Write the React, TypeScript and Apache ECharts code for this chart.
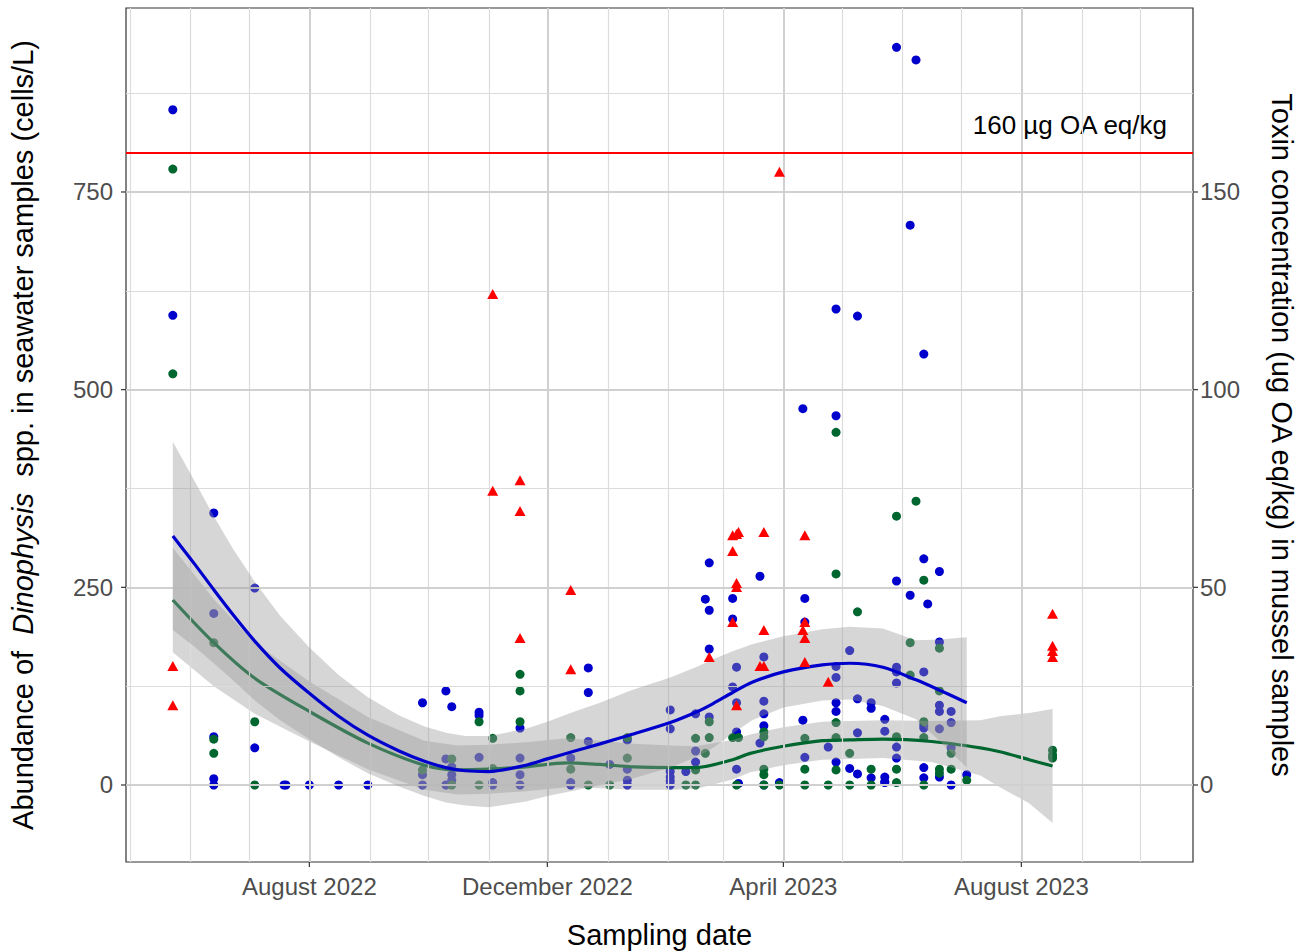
import React, { useEffect, useRef } from 'react';
import * as echarts from 'echarts';

const ts = (s: string): number => {
  const [y, m, d] = s.split('-').map(Number);
  return new Date(y, m - 1, d).getTime();
};

// ---------- axis definitions ----------
const xMinDate = '2022-04-29';
const xMaxDate = '2023-10-28';
const xTickDates = ['2022-08-01', '2022-12-01', '2023-04-01', '2023-08-01'];
const xTickLabels = ['August 2022', 'December 2022', 'April 2023', 'August 2023'];
const xMinorDates = [
  '2022-05-01', '2022-06-01', '2022-07-01', '2022-09-01', '2022-10-01', '2022-11-01',
  '2023-01-01', '2023-02-01', '2023-03-01', '2023-05-01', '2023-06-01', '2023-07-01',
  '2023-09-01', '2023-10-01',
];
const leftMin = -97.4;
const leftMax = 982.7;
const leftTicks = [0, 250, 500, 750];
const leftMinor = [125, 375, 625, 875];
const rightMin = -19.48;
const rightMax = 196.54;
const rightTicks = [0, 50, 100, 150];
const toxThreshold = 160;

// ---------- observations ----------
const blueCounts: [string, number][] = [
  ['2022-05-23', 854], ['2022-05-23', 594],
  ['2022-06-13', 344], ['2022-06-13', 217], ['2022-06-13', 61], ['2022-06-13', 8], ['2022-06-13', 0],
  ['2022-07-04', 249], ['2022-07-04', 47],
  ['2022-07-19', 0], ['2022-07-20', 0],
  ['2022-08-01', 0], ['2022-08-16', 0], ['2022-08-31', 0],
  ['2022-09-28', 104], ['2022-09-28', 13], ['2022-09-28', 0],
  ['2022-10-10', 119], ['2022-10-10', 33], ['2022-10-10', 0],
  ['2022-10-13', 99], ['2022-10-13', 23], ['2022-10-13', 13], ['2022-10-13', 6],
  ['2022-10-27', 92], ['2022-10-27', 88], ['2022-10-27', 35],
  ['2022-11-03', 3], ['2022-11-03', 0],
  ['2022-11-17', 72], ['2022-11-17', 34], ['2022-11-17', 13], ['2022-11-17', 0],
  ['2022-12-13', 34], ['2022-12-13', 3], ['2022-12-13', 0],
  ['2022-12-22', 148], ['2022-12-22', 117], ['2022-12-22', 55],
  ['2023-01-02', 26],
  ['2023-01-11', 57], ['2023-01-11', 20], ['2023-01-11', 6], ['2023-01-11', 0],
  ['2023-02-02', 95], ['2023-02-02', 71], ['2023-02-02', 17], ['2023-02-02', 10], ['2023-02-02', 5], ['2023-02-02', 0],
  ['2023-02-10', 17],
  ['2023-02-15', 90], ['2023-02-15', 43], ['2023-02-15', 29],
  ['2023-02-20', 235],
  ['2023-02-22', 281], ['2023-02-22', 221], ['2023-02-22', 172], ['2023-02-22', 86],
  ['2023-03-06', 236], ['2023-03-06', 210], ['2023-03-06', 124],
  ['2023-03-08', 149], ['2023-03-08', 104], ['2023-03-08', 67], ['2023-03-08', 20],
  ['2023-03-09', 2],
  ['2023-03-20', 264], ['2023-03-20', 53],
  ['2023-03-22', 162], ['2023-03-22', 106], ['2023-03-22', 90], ['2023-03-22', 75], ['2023-03-22', 0],
  ['2023-03-30', 3],
  ['2023-04-11', 476], ['2023-04-11', 82],
  ['2023-04-12', 236], ['2023-04-12', 206], ['2023-04-12', 35],
  ['2023-04-24', 48],
  ['2023-04-28', 602], ['2023-04-28', 467], ['2023-04-28', 150], ['2023-04-28', 136], ['2023-04-28', 104], ['2023-04-28', 93], ['2023-04-28', 29],
  ['2023-05-05', 170], ['2023-05-05', 21],
  ['2023-05-09', 593], ['2023-05-09', 109], ['2023-05-09', 66], ['2023-05-09', 14],
  ['2023-05-16', 104], ['2023-05-16', 97], ['2023-05-16', 9],
  ['2023-05-23', 83], ['2023-05-23', 68], ['2023-05-23', 10], ['2023-05-23', 4], ['2023-05-23', 3],
  ['2023-05-29', 933], ['2023-05-29', 258], ['2023-05-29', 149], ['2023-05-29', 143], ['2023-05-29', 129], ['2023-05-29', 48], ['2023-05-29', 34],
  ['2023-06-05', 708], ['2023-06-05', 240],
  ['2023-06-08', 917],
  ['2023-06-12', 545], ['2023-06-12', 286], ['2023-06-12', 143], ['2023-06-12', 76], ['2023-06-12', 72], ['2023-06-12', 22], ['2023-06-12', 9],
  ['2023-06-14', 229],
  ['2023-06-20', 270], ['2023-06-20', 181], ['2023-06-20', 101], ['2023-06-20', 93], ['2023-06-20', 71], ['2023-06-20', 10],
  ['2023-06-26', 93], ['2023-06-26', 79], ['2023-06-26', 47], ['2023-06-26', 0],
  ['2023-07-04', 13],
];

const greenCounts: [string, number][] = [
  ['2022-05-23', 779], ['2022-05-23', 520],
  ['2022-06-13', 180], ['2022-06-13', 58], ['2022-06-13', 40],
  ['2022-07-04', 80], ['2022-07-04', 0],
  ['2022-09-28', 19],
  ['2022-10-13', 33], ['2022-10-13', 0],
  ['2022-10-27', 80], ['2022-10-27', 0],
  ['2022-11-03', 59], ['2022-11-03', 21],
  ['2022-11-17', 140], ['2022-11-17', 119], ['2022-11-17', 80],
  ['2022-12-13', 60], ['2022-12-13', 20],
  ['2022-12-22', 0],
  ['2023-01-02', 0],
  ['2023-01-11', 60], ['2023-01-11', 34],
  ['2023-02-10', 0],
  ['2023-02-15', 59], ['2023-02-15', 19], ['2023-02-15', 0],
  ['2023-02-20', 40],
  ['2023-02-22', 80], ['2023-02-22', 60],
  ['2023-03-06', 60],
  ['2023-03-08', 0],
  ['2023-03-09', 60],
  ['2023-03-22', 67], ['2023-03-22', 61], ['2023-03-22', 20], ['2023-03-22', 13], ['2023-03-22', 0],
  ['2023-03-30', 0],
  ['2023-04-12', 59], ['2023-04-12', 20], ['2023-04-12', 0],
  ['2023-04-24', 0],
  ['2023-04-28', 446], ['2023-04-28', 267], ['2023-04-28', 79], ['2023-04-28', 60], ['2023-04-28', 19],
  ['2023-05-05', 40], ['2023-05-05', 0],
  ['2023-05-09', 219],
  ['2023-05-16', 20], ['2023-05-16', 0],
  ['2023-05-29', 340], ['2023-05-29', 61], ['2023-05-29', 20], ['2023-05-29', 3],
  ['2023-06-05', 180], ['2023-06-05', 139],
  ['2023-06-08', 359],
  ['2023-06-12', 259], ['2023-06-12', 80], ['2023-06-12', 60], ['2023-06-12', 0],
  ['2023-06-20', 173], ['2023-06-20', 119], ['2023-06-20', 20], ['2023-06-20', 15],
  ['2023-06-26', 40], ['2023-06-26', 20],
  ['2023-07-04', 6],
  ['2023-08-17', 44], ['2023-08-17', 38], ['2023-08-17', 34],
];

const toxinValues: [string, number][] = [
  ['2022-05-23', 30.1], ['2022-05-23', 20.2],
  ['2022-11-03', 124.2], ['2022-11-03', 74.4],
  ['2022-11-17', 77.1], ['2022-11-17', 69.3], ['2022-11-17', 37.2],
  ['2022-12-13', 49.3], ['2022-12-13', 29.3],
  ['2023-02-22', 32.4],
  ['2023-03-06', 63.2], ['2023-03-06', 59.2], ['2023-03-06', 41.2],
  ['2023-03-08', 63.5], ['2023-03-08', 51.1], ['2023-03-08', 50.1], ['2023-03-08', 20.2],
  ['2023-03-09', 64.0],
  ['2023-03-20', 30.1],
  ['2023-03-22', 64.0], ['2023-03-22', 39.2], ['2023-03-22', 30.1],
  ['2023-03-30', 155.1],
  ['2023-04-11', 39.2],
  ['2023-04-12', 63.2], ['2023-04-12', 41.2], ['2023-04-12', 37.2], ['2023-04-12', 31.1],
  ['2023-04-24', 26.1],
  ['2023-08-17', 43.3], ['2023-08-17', 35.2], ['2023-08-17', 33.9], ['2023-08-17', 32.4],
];

// ---------- smoothers ----------
const blueSmoothDates = [
  '2022-05-23', '2022-06-03', '2022-06-13', '2022-06-23', '2022-07-04', '2022-07-17', '2022-08-01',
  '2022-08-16', '2022-08-31', '2022-09-16', '2022-09-29', '2022-10-10', '2022-10-20', '2022-11-01',
  '2022-11-20', '2022-12-01', '2022-12-15', '2022-12-28', '2023-01-12', '2023-02-02', '2023-02-16',
  '2023-02-24', '2023-03-06', '2023-03-16', '2023-04-01', '2023-04-21', '2023-05-05', '2023-05-22',
  '2023-06-08', '2023-06-20', '2023-07-04',
];
const blueFit = [315, 280, 247, 215, 182, 148, 116, 87, 63, 43, 30, 22, 18, 17, 25, 33, 43, 52, 63, 79, 93, 103, 117, 130, 143, 152, 154, 149, 133, 120, 104];
const blueLower = [196, 175, 154, 132, 107, 82, 58, 35, 15, -2, -14, -22, -26, -28, -21, -14, -7, 0, 7, 22, 36, 47, 65, 82, 98, 107, 108, 100, 83, 56, 22];
const blueUpper = [434, 385, 340, 298, 257, 214, 174, 139, 111, 88, 74, 66, 62, 62, 71, 80, 93, 104, 119, 136, 150, 159, 169, 178, 188, 197, 200, 198, 183, 184, 187];

const greenSmoothDates = [
  '2022-05-23', '2022-06-13', '2022-07-04', '2022-08-01', '2022-08-31', '2022-09-29', '2022-10-16',
  '2022-11-01', '2022-11-20', '2022-12-11', '2022-12-28', '2023-01-14', '2023-02-02', '2023-02-15',
  '2023-03-06', '2023-03-15', '2023-04-01', '2023-04-21', '2023-05-05', '2023-05-22', '2023-06-16',
  '2023-07-11', '2023-07-21', '2023-08-05', '2023-08-17',
];
const greenFit = [234, 180, 135, 93, 53, 25, 19, 20, 23, 28, 26, 23, 22, 22, 32, 40, 49, 56, 57, 58, 55, 47, 42, 32, 24];
const greenLower = [168, 125, 90, 55, 20, -6, -12, -11, -8, -3, -4, -6, -6, -5, 7, 16, 25, 32, 33, 34, 29, 12, -3, -23, -48];
const greenUpper = [300, 235, 180, 131, 86, 56, 50, 51, 54, 59, 56, 52, 50, 49, 57, 64, 73, 80, 81, 82, 81, 82, 87, 91, 96];

// ---------- styles ----------
const BLUE = '#0000CD';
const GREEN = '#00662F';
const RED = '#FF0000';
const FONT = '"Liberation Sans", Arial, Helvetica, sans-serif';

export default function App() {
  const ref = useRef<HTMLDivElement>(null);

  useEffect(() => {
    const el = ref.current;
    if (!el) return;
    const chart = echarts.init(el, null, { renderer: 'svg' });

    const band = (dates: string[], lo: number[], hi: number[], z: number) => ({
      type: 'custom',
      z,
      silent: true,
      clip: false,
      data: [[ts(dates[0]), lo[0]]],
      renderItem: (_params: any, api: any) => {
        const pts: number[][] = [];
        for (let i = 0; i < dates.length; i++) pts.push(api.coord([ts(dates[i]), hi[i]]));
        for (let i = dates.length - 1; i >= 0; i--) pts.push(api.coord([ts(dates[i]), lo[i]]));
        return {
          type: 'polygon',
          shape: { points: pts },
          style: { fill: 'rgba(153,153,153,0.4)', stroke: 'none' },
        };
      },
    });

    const minorStyle = { color: '#dcdcdc', width: 1.2, type: 'solid' };
    const majorStyle = { color: '#d0d0d0', width: 2, type: 'solid' };

    const gridMarks: any[] = [
      ...xMinorDates.map((d) => ({ xAxis: ts(d), lineStyle: minorStyle })),
      ...xTickDates.map((d) => ({ xAxis: ts(d), lineStyle: majorStyle })),
      ...leftMinor.map((v) => ({ yAxis: v, lineStyle: minorStyle })),
      ...leftTicks.map((v) => ({ yAxis: v, lineStyle: majorStyle })),
    ];

    const pointStyle = (c: string) => ({ color: c, opacity: 1 });

    const option: any = {
      animation: false,
      backgroundColor: '#ffffff',
      grid: {
        left: 126,
        top: 8,
        width: 1067,
        height: 854,
        show: true,
        borderColor: '#333333',
        borderWidth: 1.2,
        backgroundColor: 'transparent',
        outerBoundsMode: 'none',
      },
      xAxis: {
        type: 'time',
        min: ts(xMinDate),
        max: ts(xMaxDate),
        axisLine: { show: false },
        axisTick: { show: false },
        axisLabel: { show: false },
        splitLine: { show: false },
      },
      yAxis: [
        {
          type: 'value',
          min: leftMin,
          max: leftMax,
          minInterval: 250,
          maxInterval: 250,
          axisLine: { show: false },
          axisTick: { show: false },
          splitLine: { show: false },
          axisLabel: {
            show: true,
            showMinLabel: false,
            showMaxLabel: false,
            margin: 13,
            fontSize: 24,
            fontFamily: FONT,
            color: '#4d4d4d',
            formatter: (v: number) => (leftTicks.includes(v) ? String(v) : ''),
          },
        },
        {
          type: 'value',
          position: 'right',
          min: rightMin,
          max: rightMax,
          minInterval: 50,
          maxInterval: 50,
          axisLine: { show: false },
          axisTick: { show: false },
          splitLine: { show: false },
          axisLabel: {
            show: true,
            showMinLabel: false,
            showMaxLabel: false,
            margin: 7,
            fontSize: 24,
            fontFamily: FONT,
            color: '#4d4d4d',
            formatter: (v: number) => (rightTicks.includes(v) ? String(v) : ''),
          },
        },
      ],
      series: [
        {
          type: 'line',
          name: 'grid',
          z: 1,
          silent: true,
          data: [],
          markLine: {
            silent: true,
            symbol: ['none', 'none'],
            label: { show: false },
            emphasis: { disabled: true },
            animation: false,
            data: gridMarks,
          },
        },
        {
          type: 'scatter',
          name: 'blue',
          z: 2,
          silent: true,
          symbol: 'circle',
          symbolSize: 9,
          itemStyle: pointStyle(BLUE),
          data: blueCounts.map(([d, v]) => [ts(d), v]),
        },
        {
          type: 'scatter',
          name: 'green',
          z: 2,
          silent: true,
          symbol: 'circle',
          symbolSize: 9,
          itemStyle: pointStyle(GREEN),
          data: greenCounts.map(([d, v]) => [ts(d), v]),
        },
        band(greenSmoothDates, greenLower, greenUpper, 3),
        {
          type: 'line',
          name: 'green smooth',
          z: 4,
          silent: true,
          showSymbol: false,
          symbol: 'none',
          smooth: 0.3,
          lineStyle: { color: GREEN, width: 3.2 },
          data: greenSmoothDates.map((d, i) => [ts(d), greenFit[i]]),
        },
        band(blueSmoothDates, blueLower, blueUpper, 5),
        {
          type: 'line',
          name: 'blue smooth',
          z: 6,
          silent: true,
          showSymbol: false,
          symbol: 'none',
          smooth: 0.3,
          lineStyle: { color: BLUE, width: 3.2 },
          data: blueSmoothDates.map((d, i) => [ts(d), blueFit[i]]),
        },
        {
          type: 'scatter',
          name: 'toxin',
          yAxisIndex: 1,
          z: 8,
          silent: true,
          symbol: 'triangle',
          symbolSize: [11, 10],
          itemStyle: pointStyle(RED),
          data: toxinValues.map(([d, v]) => [ts(d), v]),
          markLine: {
            silent: true,
            symbol: ['none', 'none'],
            label: { show: false },
            emphasis: { disabled: true },
            animation: false,
            lineStyle: { color: RED, width: 2, type: 'solid', opacity: 1 },
            data: [{ yAxis: toxThreshold }],
          },
        },
      ],
    };

    chart.setOption(option);

    const gTop = 8;
    const gBottom = 862;
    const gLeft = 126;
    const gRight = 1193;
    const tickStyle = { stroke: '#333333', lineWidth: 1.2 };
    const graphics: any[] = [];

    xTickDates.forEach((d, i) => {
      const px = chart.convertToPixel({ xAxisIndex: 0 }, ts(d)) as number;
      graphics.push({ type: 'line', silent: true, shape: { x1: px, y1: gBottom, x2: px, y2: gBottom + 5 }, style: tickStyle });
      graphics.push({
        type: 'text',
        silent: true,
        x: px,
        y: 886,
        style: { text: xTickLabels[i], textAlign: 'center', textVerticalAlign: 'middle', fill: '#4d4d4d', font: `24px ${FONT}` },
      });
    });
    leftTicks.forEach((v) => {
      const py = chart.convertToPixel({ yAxisIndex: 0 }, v) as number;
      graphics.push({ type: 'line', silent: true, shape: { x1: gLeft - 5, y1: py, x2: gLeft, y2: py }, style: tickStyle });
    });
    rightTicks.forEach((v) => {
      const py = chart.convertToPixel({ yAxisIndex: 1 }, v) as number;
      graphics.push({ type: 'line', silent: true, shape: { x1: gRight, y1: py, x2: gRight + 5, y2: py }, style: tickStyle });
    });

    const midY = (gTop + gBottom) / 2;
    graphics.push({
      type: 'text',
      silent: true,
      x: 23,
      y: midY,
      rotation: Math.PI / 2,
      style: {
        text: 'Abundance of  {i|Dinophysis}  spp. in seawater samples (cells/L)',
        textAlign: 'center',
        textVerticalAlign: 'middle',
        fill: '#000000',
        font: `29px ${FONT}`,
        rich: { i: { font: `italic 29px ${FONT}`, fill: '#000000' } },
      },
    });
    graphics.push({
      type: 'text',
      silent: true,
      x: 1282,
      y: midY,
      rotation: -Math.PI / 2,
      style: {
        text: 'Toxin concentration (ug OA eq/kg) in mussel samples',
        textAlign: 'center',
        textVerticalAlign: 'middle',
        fill: '#000000',
        font: `29px ${FONT}`,
      },
    });
    graphics.push({
      type: 'text',
      silent: true,
      x: (gLeft + gRight) / 2,
      y: 935,
      style: { text: 'Sampling date', textAlign: 'center', textVerticalAlign: 'middle', fill: '#000000', font: `29px ${FONT}` },
    });
    const thrY = chart.convertToPixel({ yAxisIndex: 1 }, toxThreshold) as number;
    graphics.push({
      type: 'text',
      silent: true,
      x: 1167,
      y: thrY - 27,
      style: { text: '160 µg OA eq/kg', textAlign: 'right', textVerticalAlign: 'middle', fill: '#000000', font: `26px ${FONT}` },
    });

    chart.setOption({ graphic: graphics });

    return () => {
      chart.dispose();
    };
  }, []);

  return (
    <div
      ref={ref}
      style={{ position: 'fixed', left: 0, top: 0, width: 1307, height: 951, background: '#ffffff' }}
    />
  );
}
